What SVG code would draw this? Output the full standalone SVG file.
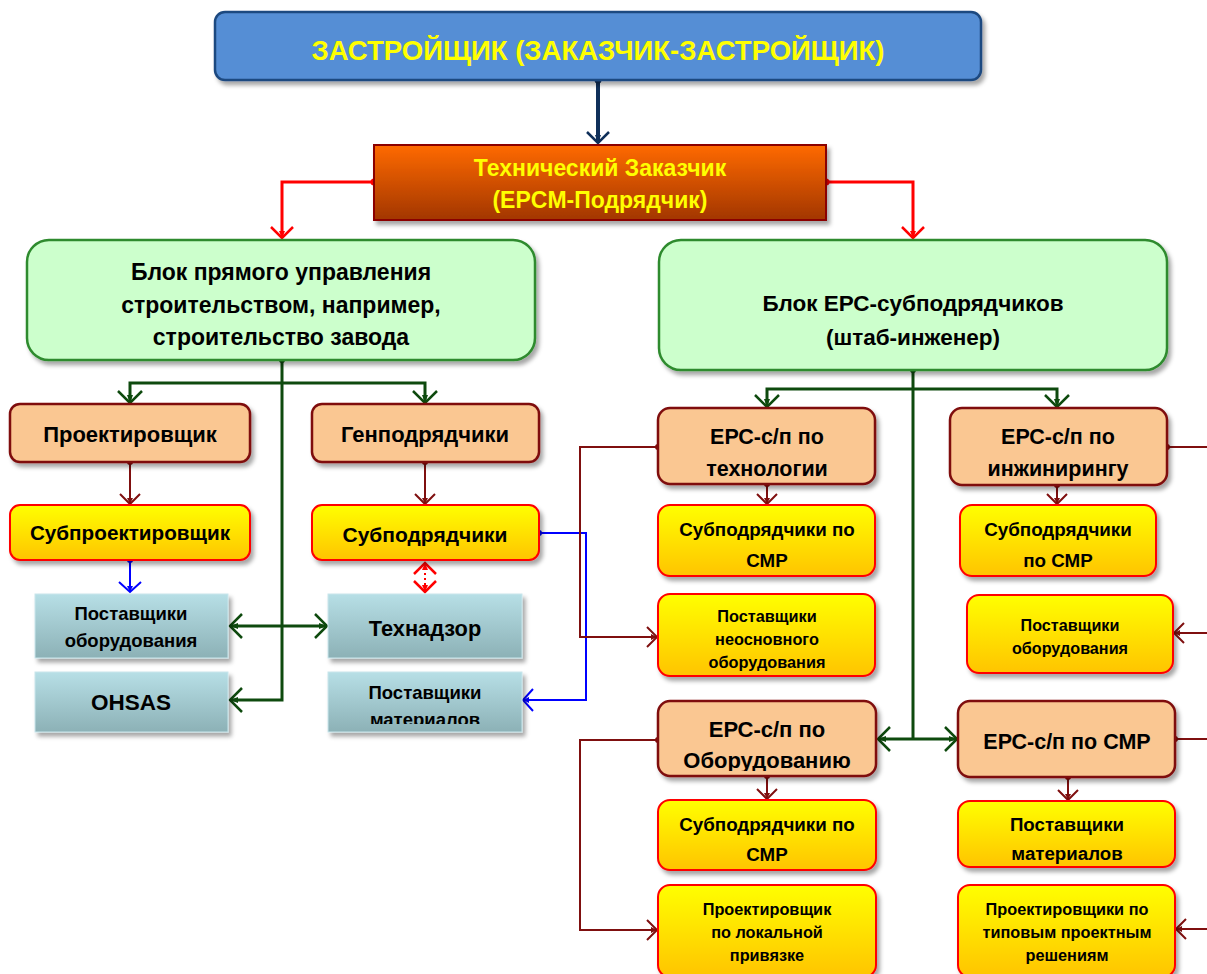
<svg xmlns="http://www.w3.org/2000/svg" width="1207" height="974" viewBox="0 0 1207 974">
<style>
text{font-family:"Liberation Sans",Arial,sans-serif;font-weight:bold;text-anchor:middle;fill:#000}
.title{fill:#FFFF00;font-size:27.5px}
.tech{fill:#FFFF00;font-size:23px}
.blk{font-size:23px}
.peach{fill:#FAC792;stroke:#7F0F0F;stroke-width:2.5}
.yel{fill:url(#gY);stroke:#FF0000;stroke-width:2}
.teal{fill:url(#gT);stroke:#C9E6EC;stroke-width:1}
.green{fill:#CCFFCC;stroke:#2E8B2E;stroke-width:2.5}
.c{fill:none}
.cg{stroke:#0E4A0E;stroke-width:3}
.cb{stroke:#7F0F0F;stroke-width:2}
.cr{stroke:#FF0000;stroke-width:3}
.cbl{stroke:#0000FF;stroke-width:2}
.cn{stroke:#10305A;stroke-width:4}
</style>
<defs>
<linearGradient id="gY" x1="0" y1="0" x2="0" y2="1"><stop offset="0" stop-color="#FFFF00"/><stop offset="1" stop-color="#FFC400"/></linearGradient>
<linearGradient id="gT" x1="0" y1="0" x2="0" y2="1"><stop offset="0" stop-color="#B7DFE6"/><stop offset="1" stop-color="#8CB1B6"/></linearGradient>
<linearGradient id="gO" x1="0" y1="0" x2="0" y2="1"><stop offset="0" stop-color="#FF6A00"/><stop offset="1" stop-color="#A23600"/></linearGradient>
<filter id="sh" x="-10%" y="-10%" width="125%" height="135%"><feDropShadow dx="3" dy="4" stdDeviation="2" flood-color="#000" flood-opacity="0.35"/></filter>
<marker id="aG" viewBox="-14 -14 16 28" refX="0" refY="0" markerWidth="16" markerHeight="28" markerUnits="userSpaceOnUse" orient="auto-start-reverse"><path d="M-12,-12 L0,0 L-12,12" fill="none" stroke="#0E4A0E" stroke-width="2.5"/><path d="M-8,-3 L0,0 L-8,3z" fill="#0E4A0E"/></marker>
<marker id="aB" viewBox="-14 -14 16 28" refX="0" refY="0" markerWidth="16" markerHeight="28" markerUnits="userSpaceOnUse" orient="auto-start-reverse"><path d="M-10,-10 L0,0 L-10,10" fill="none" stroke="#7F0F0F" stroke-width="2"/><path d="M-6,-3 L0,0 L-6,3z" fill="#7F0F0F"/></marker>
<marker id="aR" viewBox="-14 -14 16 28" refX="0" refY="0" markerWidth="16" markerHeight="28" markerUnits="userSpaceOnUse" orient="auto-start-reverse"><path d="M-11,-11 L0,0 L-11,11" fill="none" stroke="#FF0000" stroke-width="2.5"/><path d="M-7,-3 L0,0 L-7,3z" fill="#FF0000"/></marker>
<marker id="aBl" viewBox="-14 -14 16 28" refX="0" refY="0" markerWidth="16" markerHeight="28" markerUnits="userSpaceOnUse" orient="auto-start-reverse"><path d="M-10,-11 L0,0 L-10,11" fill="none" stroke="#0000FF" stroke-width="2"/><path d="M-6,-3 L0,0 L-6,3z" fill="#0000FF"/></marker>
<marker id="aN" viewBox="-14 -14 16 28" refX="0" refY="0" markerWidth="16" markerHeight="28" markerUnits="userSpaceOnUse" orient="auto"><path d="M-11,-11 L0,0 L-11,11" fill="none" stroke="#10305A" stroke-width="2.5"/><path d="M-8,-3 L0,0 L-8,3z" fill="#10305A"/></marker>
<marker id="dG" viewBox="-5 -5 10 10" refX="0" refY="0" markerWidth="10" markerHeight="10" markerUnits="userSpaceOnUse"><circle r="3" fill="#0E4A0E"/></marker>
<marker id="dB" viewBox="-5 -5 10 10" refX="0" refY="0" markerWidth="10" markerHeight="10" markerUnits="userSpaceOnUse"><circle r="3" fill="#7F0F0F"/></marker>
<marker id="dR" viewBox="-5 -5 10 10" refX="0" refY="0" markerWidth="10" markerHeight="10" markerUnits="userSpaceOnUse"><circle r="3.5" fill="#FF0000"/></marker>
<marker id="dBl" viewBox="-5 -5 10 10" refX="0" refY="0" markerWidth="10" markerHeight="10" markerUnits="userSpaceOnUse"><circle r="3" fill="#0000FF"/></marker>
<marker id="dN" viewBox="-5 -5 10 10" refX="0" refY="0" markerWidth="10" markerHeight="10" markerUnits="userSpaceOnUse"><circle r="3.5" fill="#10305A"/></marker>
<clipPath id="clipPM"><rect x="328" y="672" width="194" height="52"/></clipPath>
<clipPath id="clipEO"><rect x="658" y="701" width="218" height="70"/></clipPath>
</defs>
<rect width="1207" height="974" fill="#FFFFFF"/>

<g id="connectors" class="c">
<path class="cn" d="M598,80 V143" marker-start="url(#dN)" marker-end="url(#aN)"/>
<path class="cr" d="M374,182 H282 V238" marker-start="url(#dR)" marker-end="url(#aR)"/>
<path class="cr" d="M826,182 H913 V238" marker-start="url(#dR)" marker-end="url(#aR)"/>
<path class="cg" d="M282,360 V700 H230" marker-start="url(#dG)" marker-end="url(#aG)"/>
<path class="cg" d="M282,383 H130 V403" marker-end="url(#aG)"/>
<path class="cg" d="M282,383 H425 V403" marker-end="url(#aG)"/>
<path class="cg" d="M230,626 H327" marker-start="url(#aG)" marker-end="url(#aG)"/>
<path class="cb" d="M130,462 V504" marker-start="url(#dB)" marker-end="url(#aB)"/>
<path class="cb" d="M425,462 V504" marker-start="url(#dB)" marker-end="url(#aB)"/>
<path class="cbl" d="M130,560 V592" marker-start="url(#dBl)" marker-end="url(#aBl)"/>
<path d="M425,563 V592" stroke="#FF0000" stroke-width="2" stroke-dasharray="2,3" marker-start="url(#aR)" marker-end="url(#aR)"/>
<path class="cbl" d="M539,533 H586 V700 H523" marker-start="url(#dBl)" marker-end="url(#aBl)"/>
<path class="cb" d="M658,447 H580 V637 H657" marker-start="url(#dB)" marker-end="url(#aB)"/>
<path class="cb" d="M658,740 H580 V930 H657" marker-start="url(#dB)" marker-end="url(#aB)"/>
<path class="cg" d="M913,370 V738" marker-start="url(#dG)"/>
<path class="cg" d="M913,389 H767 V407" marker-end="url(#aG)"/>
<path class="cg" d="M913,389 H1057 V407" marker-end="url(#aG)"/>
<path class="cg" d="M913,739 H878" marker-end="url(#aG)"/>
<path class="cg" d="M913,739 H957" marker-end="url(#aG)"/>
<path class="cb" d="M767,484 V504" marker-start="url(#dB)" marker-end="url(#aB)"/>
<path class="cb" d="M1057,485 V504" marker-start="url(#dB)" marker-end="url(#aB)"/>
<path class="cb" d="M767,776 V799" marker-start="url(#dB)" marker-end="url(#aB)"/>
<path class="cb" d="M1068,777 V800" marker-start="url(#dB)" marker-end="url(#aB)"/>
<path class="cb" d="M1167,447 H1210" marker-start="url(#dB)"/>
<path class="cb" d="M1210,633 H1174" marker-end="url(#aB)"/>
<path class="cb" d="M1175,739 H1210" marker-start="url(#dB)"/>
<path class="cb" d="M1210,929 H1176" marker-end="url(#aB)"/>
</g>

<g id="n-zastr">
<rect x="215" y="12" width="766" height="68" rx="10" fill="#558ED5" stroke="#1F4A80" stroke-width="2.5" filter="url(#sh)"/>
<text class="title" x="598" y="60">ЗАСТРОЙЩИК (ЗАКАЗЧИК-ЗАСТРОЙЩИК)</text>
</g>
<g id="n-tech">
<rect x="374" y="145" width="452" height="75" fill="url(#gO)" stroke="#8B0000" stroke-width="2" filter="url(#sh)"/>
<text class="tech" x="600" y="176">Технический Заказчик</text>
<text class="tech" x="600" y="208">(EPCM-Подрядчик)</text>
</g>
<g id="n-blok1">
<rect class="green" x="27" y="240" width="508" height="120" rx="22" filter="url(#sh)"/>
<text class="blk" x="281" y="280">Блок прямого управления</text>
<text class="blk" x="281" y="313">строительством, например,</text>
<text class="blk" x="281" y="345">строительство завода</text>
</g>
<g id="n-blok2">
<rect class="green" x="659" y="240" width="508" height="130" rx="22" filter="url(#sh)"/>
<text x="913" y="311" font-size="22.5">Блок ЕРС-субподрядчиков</text>
<text x="913" y="345" font-size="22.5">(штаб-инженер)</text>
</g>
<g id="n-proekt">
<rect class="peach" x="10" y="404" width="240" height="58" rx="10" filter="url(#sh)"/>
<text x="130" y="442" font-size="22">Проектировщик</text>
</g>
<g id="n-genpod">
<rect class="peach" x="312" y="404" width="227" height="58" rx="10" filter="url(#sh)"/>
<text x="425" y="442" font-size="22">Генподрядчики</text>
</g>
<g id="n-subproekt">
<rect class="yel" x="10" y="505" width="240" height="55" rx="10" filter="url(#sh)"/>
<text x="130" y="540" font-size="20.7">Субпроектировщик</text>
</g>
<g id="n-subpod">
<rect class="yel" x="312" y="505" width="227" height="55" rx="10" filter="url(#sh)"/>
<text x="425" y="542" font-size="21">Субподрядчики</text>
</g>
<g id="n-postob">
<rect class="teal" x="35" y="594" width="193" height="64" filter="url(#sh)"/>
<text x="131" y="620" font-size="18.5">Поставщики</text>
<text x="131" y="647" font-size="18.5">оборудования</text>
</g>
<g id="n-ohsas">
<rect class="teal" x="35" y="672" width="193" height="60" filter="url(#sh)"/>
<text x="131" y="710" font-size="22.5">OHSAS</text>
</g>
<g id="n-tehnadzor">
<rect class="teal" x="328" y="594" width="194" height="64" filter="url(#sh)"/>
<text x="425" y="636" font-size="21.8">Технадзор</text>
</g>
<g id="n-postmat">
<rect class="teal" x="328" y="672" width="194" height="60" filter="url(#sh)"/>
<g clip-path="url(#clipPM)">
<text x="425" y="699" font-size="18.5">Поставщики</text>
<text x="425" y="726" font-size="18.5">материалов</text>
</g>
</g>
<g id="n-epc-tech">
<rect class="peach" x="658" y="408" width="217" height="76" rx="12" filter="url(#sh)"/>
<text x="767" y="444" font-size="21.5">ЕРС-с/п по</text>
<text x="767" y="476" font-size="21.5">технологии</text>
</g>
<g id="n-epc-eng">
<rect class="peach" x="950" y="408" width="217" height="77" rx="12" filter="url(#sh)"/>
<text x="1058" y="444" font-size="21.5">ЕРС-с/п по</text>
<text x="1058" y="476" font-size="21.5">инжинирингу</text>
</g>
<g id="n-sub1">
<rect class="yel" x="658" y="505" width="217" height="71" rx="12" filter="url(#sh)"/>
<text x="767" y="536" font-size="18.8">Субподрядчики по</text>
<text x="767" y="567" font-size="18.8">СМР</text>
</g>
<g id="n-sub2">
<rect class="yel" x="960" y="505" width="196" height="71" rx="12" filter="url(#sh)"/>
<text x="1058" y="536" font-size="18.8">Субподрядчики</text>
<text x="1058" y="567" font-size="18.8">по СМР</text>
</g>
<g id="n-postneosn">
<rect class="yel" x="658" y="594" width="217" height="82" rx="12" filter="url(#sh)"/>
<text x="767" y="622" font-size="16.3">Поставщики</text>
<text x="767" y="645" font-size="16.3">неосновного</text>
<text x="767" y="668" font-size="16.3">оборудования</text>
</g>
<g id="n-postob2">
<rect class="yel" x="967" y="595" width="206" height="78" rx="12" filter="url(#sh)"/>
<text x="1070" y="631" font-size="16.2">Поставщики</text>
<text x="1070" y="654" font-size="16.2">оборудования</text>
</g>
<g id="n-epc-ob">
<rect class="peach" x="658" y="701" width="218" height="75" rx="12" filter="url(#sh)"/>
<g clip-path="url(#clipEO)">
<text x="767" y="737" font-size="22">ЕРС-с/п по</text>
<text x="767" y="768" font-size="22">Оборудованию</text>
</g>
</g>
<g id="n-epc-smr">
<rect class="peach" x="958" y="701" width="217" height="76" rx="12" filter="url(#sh)"/>
<text x="1067" y="749" font-size="21.5">ЕРС-с/п по СМР</text>
</g>
<g id="n-sub3">
<rect class="yel" x="658" y="800" width="218" height="70" rx="12" filter="url(#sh)"/>
<text x="767" y="831" font-size="18.8">Субподрядчики по</text>
<text x="767" y="861" font-size="18.8">СМР</text>
</g>
<g id="n-postmat2">
<rect class="yel" x="958" y="801" width="217" height="66" rx="12" filter="url(#sh)"/>
<text x="1067" y="831" font-size="18.7">Поставщики</text>
<text x="1067" y="860" font-size="18.7">материалов</text>
</g>
<g id="n-proekt-lok">
<rect class="yel" x="658" y="885" width="218" height="92" rx="12" filter="url(#sh)"/>
<text x="767" y="915" font-size="16.3">Проектировщик</text>
<text x="767" y="938" font-size="16.3">по локальной</text>
<text x="767" y="961" font-size="16.3">привязке</text>
</g>
<g id="n-proekt-tip">
<rect class="yel" x="958" y="885" width="217" height="92" rx="12" filter="url(#sh)"/>
<text x="1067" y="915" font-size="16.3">Проектировщики по</text>
<text x="1067" y="938" font-size="16.3">типовым проектным</text>
<text x="1067" y="961" font-size="16.3">решениям</text>
</g>
</svg>
